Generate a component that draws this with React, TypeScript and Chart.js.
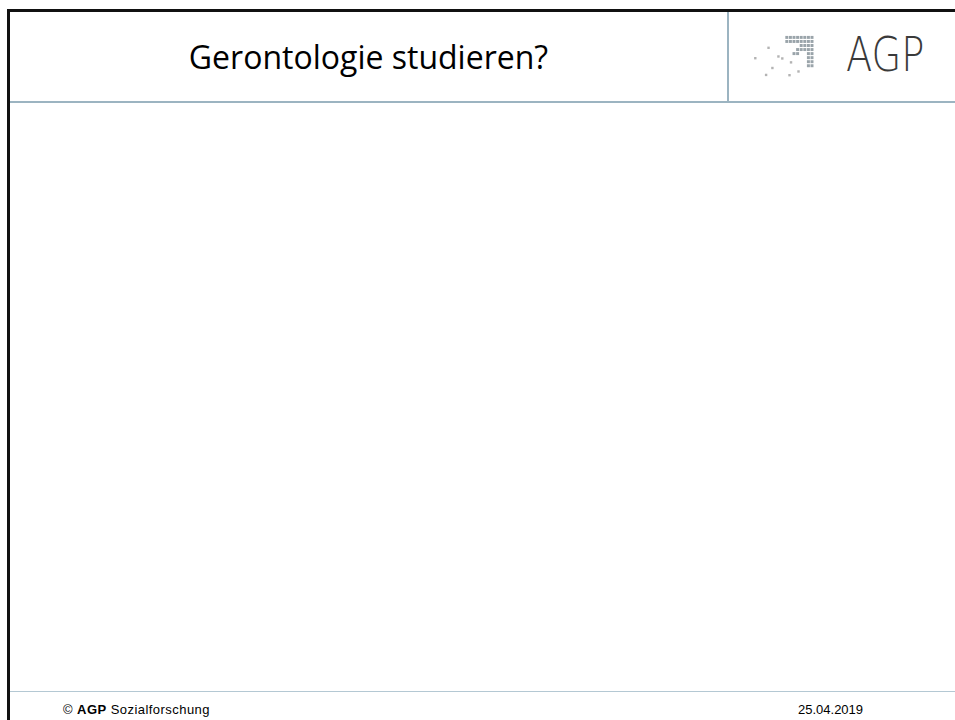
import React, { useEffect, useRef } from "react";
import { Chart, registerables } from "chart.js";

Chart.register(...registerables);

// Slide texts
const titleText = "Gerontologie studieren?";
const logoText = "AGP";
const footerBrand = "AGP";
const footerRest = " Sozialforschung";
const footerDate = "25.04.2019";

// Logo dot matrix (rows of the square grid, column indices that are filled)
const gridRows: number[][] = [
  [0, 1, 2, 3, 4, 5, 6, 7],
  [0, 1, 2, 3, 4, 5, 6, 7],
  [4, 5, 6, 7],
  [3, 4, 5, 6, 7],
  [2, 3, 6, 7],
  [6, 7],
  [6, 7],
  [6, 7],
];
// Scattered logo dots (x, y in logo units)
const scatterX = [21.7, 7, 32.7, 37, 26, 46.7, 55, 19, 45];
const scatterY = [21.7, 33.7, 31.7, 34, 45, 38.5, 49, 53, 53.3];

function LogoDots() {
  const ref = useRef<HTMLCanvasElement | null>(null);
  useEffect(() => {
    if (!ref.current) return;
    const gridData: { x: number; y: number }[] = [];
    gridRows.forEach((cols, r) =>
      cols.forEach((c) => gridData.push({ x: 42 + 4 * c, y: 9.7 + 4.67 * r }))
    );
    const scatterData = scatterX.map((x, i) => ({ x, y: scatterY[i] }));
    const chart = new Chart(ref.current, {
      type: "scatter",
      data: {
        datasets: [
          {
            data: gridData,
            pointStyle: "rect",
            pointRadius: 2.1,
            pointBorderWidth: 0,
            backgroundColor: "#9aa4aa",
          },
          {
            data: scatterData,
            pointStyle: "rect",
            pointRadius: 1.7,
            pointBorderWidth: 0,
            backgroundColor: "#b3b3b3",
          },
        ],
      },
      options: {
        animation: false,
        responsive: false,
        maintainAspectRatio: false,
        layout: { padding: 0 },
        plugins: { legend: { display: false }, tooltip: { enabled: false } },
        scales: {
          x: { type: "linear", min: 0, max: 80, display: false },
          y: { type: "linear", min: 0, max: 60, reverse: true, display: false },
        },
      },
    });
    return () => chart.destroy();
  }, []);
  return (
    <canvas
      ref={ref}
      width={80}
      height={60}
      style={{ position: "absolute", left: 745, top: 25, width: 80, height: 60 }}
    />
  );
}

export default function App() {
  return (
    <div
      style={{
        position: "absolute",
        left: 0,
        top: 0,
        width: 955,
        height: 720,
        background: "#ffffff",
        overflow: "hidden",
      }}
    >
      {/* black frame: top and left */}
      <div style={{ position: "absolute", left: 7, top: 9, width: 948, height: 3, background: "#111" }} />
      <div style={{ position: "absolute", left: 7, top: 9, width: 3, height: 711, background: "#111" }} />
      {/* header separators */}
      <div style={{ position: "absolute", left: 10, top: 101, width: 945, height: 2, background: "#9cb4c1" }} />
      <div style={{ position: "absolute", left: 727, top: 12, width: 2, height: 89, background: "#9cb4c1" }} />
      {/* title */}
      <div
        style={{
          position: "absolute",
          left: 10,
          top: 12,
          width: 717,
          height: 89,
          display: "flex",
          alignItems: "center",
          justifyContent: "center",
          fontFamily: "'Open Sans', sans-serif",
          fontSize: 32,
          color: "#000",
          whiteSpace: "nowrap",
        }}
      >
        {titleText}
      </div>
      {/* logo */}
      <LogoDots />
      <div
        style={{
          position: "absolute",
          left: 846,
          top: 24,
          fontFamily: "'DejaVu Sans', sans-serif",
          fontWeight: 200,
          fontSize: 48,
          lineHeight: "60px",
          color: "#3a3a3a",
          whiteSpace: "nowrap",
          transform: "scaleX(0.8)",
          transformOrigin: "left top",
        }}
      >
        {logoText}
      </div>
      {/* footer */}
      <div style={{ position: "absolute", left: 10, top: 691, width: 945, height: 1, background: "#b4c8d3" }} />
      <div
        style={{
          position: "absolute",
          left: 63,
          top: 702,
          fontFamily: "'Liberation Sans', Arial, sans-serif",
          fontSize: 13,
          lineHeight: "16px",
          letterSpacing: "0.45px",
          color: "#000",
          whiteSpace: "nowrap",
        }}
      >
        © <b>{footerBrand}</b>
        {footerRest}
      </div>
      <div
        style={{
          position: "absolute",
          left: 798,
          top: 702,
          fontFamily: "'Liberation Sans', Arial, sans-serif",
          fontSize: 13,
          lineHeight: "16px",
          color: "#000",
          whiteSpace: "nowrap",
        }}
      >
        {footerDate}
      </div>
    </div>
  );
}
